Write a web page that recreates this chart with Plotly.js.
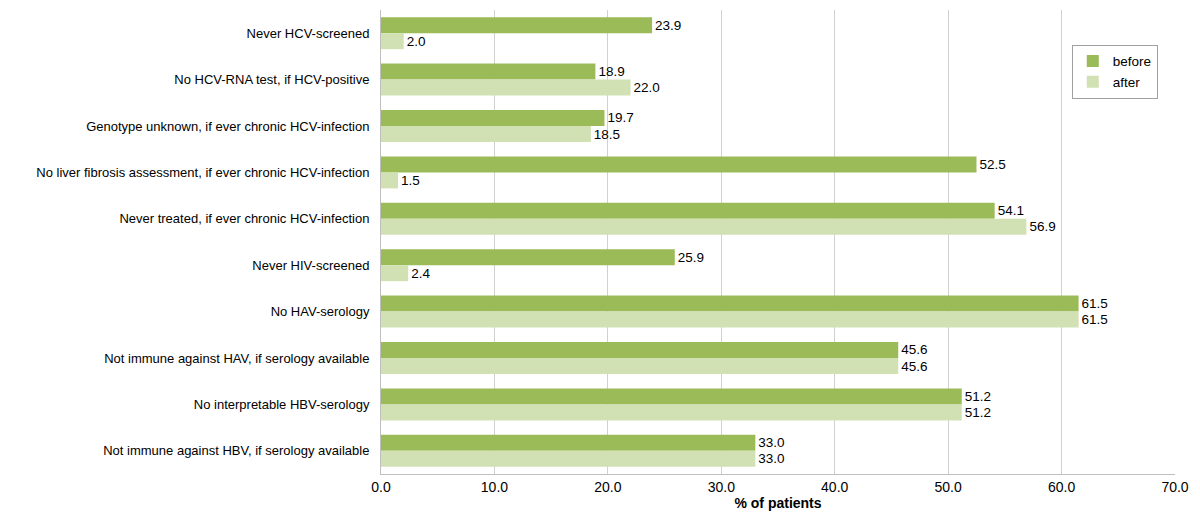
<!DOCTYPE html>
<html><head><meta charset="utf-8">
<script src="https://cdn.plot.ly/plotly-3.0.1.min.js"></script>
<style>html,body{margin:0;padding:0;background:#fff}#chart{width:1200px;height:515px}</style>
</head><body><div id="chart"></div>
<script>
const categories = [
  "Never HCV-screened",
  "No HCV-RNA test, if HCV-positive",
  "Genotype unknown, if ever chronic HCV-infection",
  "No liver fibrosis assessment, if ever chronic HCV-infection",
  "Never treated, if ever chronic HCV-infection",
  "Never HIV-screened",
  "No HAV-serology",
  "Not immune against HAV, if serology available",
  "No interpretable HBV-serology",
  "Not immune against HBV, if serology available"
];
const before = [23.9, 18.9, 19.7, 52.5, 54.1, 25.9, 61.5, 45.6, 51.2, 33.0];
const after = [2.0, 22.0, 18.5, 1.5, 56.9, 2.4, 61.5, 45.6, 51.2, 33.0];
const seriesNames = ["before", "after"];
const xTicks = [0, 10, 20, 30, 40, 50, 60, 70];

const labelFont = {family: "Liberation Sans, Arial, sans-serif", size: 13.5, color: "#000"};
const traces = [
  {type: "bar", orientation: "h", name: seriesNames[0], y: categories, x: before,
   marker: {color: "#9BBB59"}, text: before.map(v => v.toFixed(1)), textposition: "outside",
   textfont: labelFont, cliponaxis: false, hoverinfo: "x+y"},
  {type: "bar", orientation: "h", name: seriesNames[1], y: categories, x: after,
   marker: {color: "#D2E1B3"}, text: after.map(v => v.toFixed(1)), textposition: "outside",
   textfont: labelFont, cliponaxis: false, hoverinfo: "x+y"}
];
const layout = {
  width: 1200, height: 515,
  margin: {l: 381, r: 25, t: 10, b: 41},
  barmode: "group", bargap: 0.31, bargroupgap: 0,
  paper_bgcolor: "#fff", plot_bgcolor: "#fff",
  font: {family: "Liberation Sans, Arial, sans-serif", size: 13, color: "#000"},
  xaxis: {
    range: [0, 70], tickvals: xTicks, ticktext: xTicks.map(v => v.toFixed(1)),
    showgrid: true, gridcolor: "#D0D0D0", gridwidth: 1, zeroline: false,
    showline: true, linecolor: "#BFBFBF", ticks: "outside", ticklen: 0,
    tickfont: {family: "Liberation Sans Narrow, Arial Narrow, sans-serif", size: 14, color: "#000"},
    title: {text: "<b>% of patients</b>", font: {family: "Liberation Sans Narrow, Arial Narrow, sans-serif", size: 14}, standoff: 4}
  },
  yaxis: {
    type: "category", autorange: "reversed", showgrid: false, zeroline: false,
    showline: true, linecolor: "#BFBFBF", ticks: "", ticklabelstandoff: 8,
    tickfont: {family: "Liberation Sans, Arial, sans-serif", size: 13, color: "#000"}
  },
  legend: {
    x: 0.87, y: 0.925, xanchor: "left", yanchor: "top",
    bordercolor: "#A0A0A0", borderwidth: 1, bgcolor: "#fff",
    font: {family: "Liberation Sans, Arial, sans-serif", size: 13.5},
    traceorder: "normal", itemwidth: 30
  },
  showlegend: true
};
Plotly.newPlot("chart", traces, layout, {displayModeBar: false, staticPlot: true});
</script></body></html>
